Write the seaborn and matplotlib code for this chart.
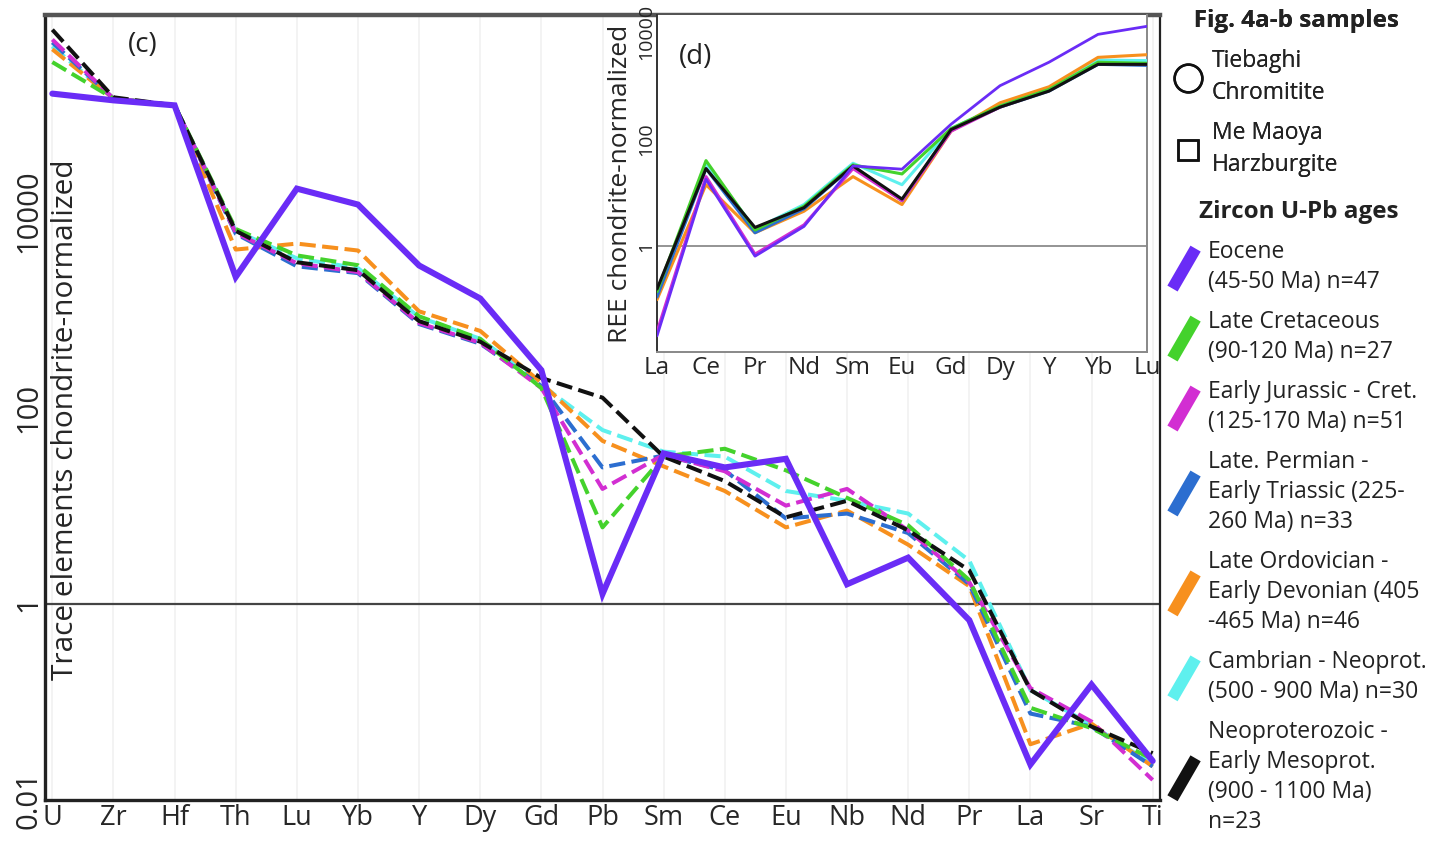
import numpy as np
import pandas as pd
import matplotlib
matplotlib.use("Agg")
import matplotlib.pyplot as plt
import seaborn as sns
from matplotlib.lines import Line2D
from matplotlib.legend_handler import HandlerBase
from matplotlib.ticker import NullLocator, FixedLocator

# ---------------- data ----------------
groups = ["Eocene", "Late Cretaceous", "Early Jurassic - Cret.", "Late Permian - Early Triassic",
          "Late Ordovician - Early Devonian", "Cambrian - Neoprot.", "Neoproterozoic - Early Mesoprot."]
legend_labels = ["Eocene\n(45-50 Ma) n=47",
                 "Late Cretaceous\n(90-120 Ma) n=27",
                 "Early Jurassic - Cret.\n(125-170 Ma) n=51",
                 "Late. Permian -\nEarly Triassic (225-\n260 Ma) n=33",
                 "Late Ordovician -\nEarly Devonian (405\n-465 Ma) n=46",
                 "Cambrian - Neoprot.\n(500 - 900 Ma) n=30",
                 "Neoproterozoic -\nEarly Mesoprot.\n(900 - 1100 Ma)\nn=23"]
colors = ["#6a2cf6", "#44d22c", "#d22ed2", "#2c6ed0", "#f7901e", "#5ef0ee", "#111111"]

trace_elements = ["U", "Zr", "Hf", "Th", "Lu", "Yb", "Y", "Dy", "Gd", "Pb",
                  "Sm", "Ce", "Eu", "Nb", "Nd", "Pr", "La", "Sr", "Ti"]
trace_eocene = [158000, 135000, 120000, 2140, 17000, 11700, 2800, 1290, 240, 1.26,
                34, 24.5, 30, 1.58, 2.95, 0.68, 0.023, 0.15, 0.025]
trace_late_cret = [331000, 141000, 120000, 6600, 3550, 2820, 850, 500, 158, 6.0,
                   31.6, 38, 22.9, 12.0, 6.3, 1.74, 0.087, 0.054, 0.026]
trace_early_jur = [562000, 141000, 120000, 6030, 2950, 2400, 724, 457, 158, 14.8,
                   33, 22.4, 10, 14.8, 5.6, 1.66, 0.138, 0.063, 0.016]
trace_permian = [525000, 141000, 120000, 5890, 2750, 2340, 708, 447, 166, 24.5,
                 32.4, 22.9, 7.4, 8.3, 5.25, 1.58, 0.076, 0.056, 0.022]
trace_ordovician = [447000, 141000, 120000, 4070, 4680, 3980, 955, 603, 178, 45.7,
                    25.1, 14.1, 6.0, 8.9, 4.0, 1.51, 0.037, 0.060, 0.022]
trace_cambrian = [479000, 141000, 120000, 6310, 3310, 2630, 832, 501, 170, 58.9,
                  35.5, 31.6, 14.1, 11.2, 8.3, 2.75, 0.132, 0.058, 0.023]
trace_neoprot = [708000, 145000, 120000, 6310, 3020, 2510, 759, 468, 200, 126,
                 31.6, 17.8, 7.6, 11.2, 5.6, 2.19, 0.132, 0.056, 0.030]

ree_elements = ["La", "Ce", "Pr", "Nd", "Sm", "Eu", "Gd", "Dy", "Y", "Yb", "Lu"]
ree_eocene = [0.021, 17.8, 0.65, 2.34, 31.6, 27.5, 190, 1000, 2750, 9120, 12900]
ree_late_cret = [0.141, 39.8, 2.0, 5.6, 33.1, 22.4, 158, 417, 851, 2750, 2630]
ree_early_jur = [0.025, 20, 0.71, 2.5, 28.2, 7.1, 141, 398, 832, 2630, 2510]
ree_permian = [0.112, 28.2, 1.78, 5.0, 31.6, 7.1, 151, 398, 794, 2510, 2400]
ree_ordovician = [0.10, 14.1, 1.78, 4.5, 20, 6.0, 141, 479, 955, 3390, 3800]
ree_cambrian = [0.126, 35.5, 2.09, 6.0, 35.5, 14.1, 158, 427, 891, 3020, 2950]
ree_neoprot = [0.158, 28.2, 2.24, 5.25, 31.6, 7.6, 151, 398, 794, 2510, 2510]

main_ticks = [0.01, 1, 100, 10000]
inset_ticks = [1, 100, 10000]

trace_series = [trace_eocene, trace_late_cret, trace_early_jur, trace_permian,
                trace_ordovician, trace_cambrian, trace_neoprot]
ree_series = [ree_eocene, ree_late_cret, ree_early_jur, ree_permian,
              ree_ordovician, ree_cambrian, ree_neoprot]

trace_df = pd.concat([pd.DataFrame({"element": trace_elements, "value": v, "group": g})
                      for g, v in zip(groups, trace_series)], ignore_index=True)
ree_df = pd.concat([pd.DataFrame({"element": ree_elements, "value": v, "group": g})
                    for g, v in zip(groups, ree_series)], ignore_index=True)

# ---------------- style ----------------
sns.set_style("white")
plt.rcParams["font.family"] = ["Open Sans", "DejaVu Sans"]
plt.rcParams["text.color"] = "#222222"

fig = plt.figure(figsize=(14.32, 8.41), dpi=100)
ax = fig.add_axes([45 / 1432, 41 / 841, 1115 / 1432, 785 / 841])

# draw order: dashed first, Eocene on top
draw_order = [5, 4, 3, 2, 1, 6, 0]
for i in draw_order:
    sub = trace_df[trace_df["group"] == groups[i]]
    if i == 0:
        sns.lineplot(data=sub, x="element", y="value", ax=ax, color=colors[i], sort=False,
                     estimator=None, lw=4.4, solid_joinstyle="miter", zorder=5)
    else:
        sns.lineplot(data=sub, x="element", y="value", ax=ax, color=colors[i], sort=False,
                     estimator=None, lw=2.9, linestyle=(0, (4, 1.6)), zorder=3)

ax.set_yscale("log")
ax.set_ylim(0.01, 1e6)
ax.set_xlim(-0.12, len(trace_elements) - 1 + 0.12)
ax.axhline(1, color="#444444", lw=1.6, zorder=1)
ax.yaxis.set_major_locator(FixedLocator(main_ticks))
ax.yaxis.set_minor_locator(NullLocator())
ax.set_yticklabels(["0.01", "1", "100", "10000"], rotation=90, va="center", fontsize=21)
ax.set_xticks(range(len(trace_elements)))
ax.set_xticklabels(trace_elements, fontsize=19.5)
ax.tick_params(axis="both", length=0)
ax.tick_params(axis="y", pad=1)
ax.tick_params(axis="x", pad=3)
ax.grid(axis="x", color="#f1f1f1", lw=1.2)
ax.grid(axis="y", visible=False)
ax.set_xlabel("")
ax.set_ylabel("Trace elements chondrite-normalized", fontsize=21.5)
ax.yaxis.set_label_coords(0.031, 0.484)
for side, (c, w) in {"left": ("#222222", 2.4), "bottom": ("#222222", 2.4),
                     "top": ("#555555", 3.2), "right": ("#222222", 1.6)}.items():
    ax.spines[side].set_color(c)
    ax.spines[side].set_linewidth(w)
    ax.spines[side].set_visible(True)
ax.text(0.088, 0.962, "(c)", transform=ax.transAxes, fontsize=20, ha="center", va="center")

# ---------------- inset ----------------
axin = fig.add_axes([657 / 1432, (841 - 352) / 841, 490 / 1432, 337 / 841])
axin.set_facecolor("white")
for i in draw_order:
    sub = ree_df[ree_df["group"] == groups[i]]
    sns.lineplot(data=sub, x="element", y="value", ax=axin, color=colors[i], sort=False,
                 estimator=None, lw=2.0 if i == 0 else 2.2, zorder=5 if i == 0 else 3)
axin.set_yscale("log")
axin.set_ylim(0.0105, 2.1e4)
axin.set_xlim(0, len(ree_elements) - 1)
axin.axhline(1, color="#777777", lw=1.1, zorder=1)
axin.yaxis.set_major_locator(FixedLocator(inset_ticks))
axin.yaxis.set_minor_locator(NullLocator())
axin.set_yticklabels(["1", "100", "10000"], rotation=90, va="center", fontsize=14)
axin.set_xticks(range(len(ree_elements)))
axin.set_xticklabels(ree_elements, fontsize=17.5)
axin.tick_params(axis="both", length=0)
axin.tick_params(axis="y", pad=1)
axin.tick_params(axis="x", pad=3)
axin.grid(False)
axin.set_xlabel("")
axin.set_ylabel("REE chondrite-normalized", fontsize=19, labelpad=3)
for side, (c, w) in {"left": ("#333333", 1.4), "bottom": ("#888888", 1.4),
                     "top": ("#555555", 0.0), "right": ("#888888", 1.4)}.items():
    axin.spines[side].set_color(c)
    axin.spines[side].set_linewidth(w)
axin.text(0.078, 0.875, "(d)", transform=axin.transAxes, fontsize=20, ha="center", va="center")


# ---------------- legends ----------------
class StripeHandler(HandlerBase):
    def create_artists(self, legend, orig_handle, xdescent, ydescent, width, height,
                       fontsize, trans):
        cx = -xdescent + width / 2
        cy = -ydescent + height / 2
        dx = width * 0.42
        dy = height * 0.85
        ln = Line2D([cx - dx, cx + dx], [cy - dy, cy + dy], color=orig_handle.get_color(),
                    lw=8.5, solid_capstyle="butt", transform=trans)
        return [ln]


sample_handles = [Line2D([], [], marker="o", ls="none", mfc="none", mec="#111111", ms=20, mew=1.8),
                  Line2D([], [], marker="s", ls="none", mfc="none", mec="#111111", ms=15, mew=1.8)]
leg1 = fig.legend(sample_handles, ["Tiebaghi\nChromitite", "Me Maoya\nHarzburgite"],
                  title="   Fig. 4a-b samples", loc="upper left",
                  bbox_to_anchor=(1170 / 1432, 1 - 4 / 841), frameon=False, fontsize=16.5,
                  title_fontproperties={"weight": "bold", "size": 17.5},
                  handlelength=1.2, handletextpad=0.42, labelspacing=0.72, borderaxespad=0,
                  borderpad=0.2)
leg1._legend_box.align = "left"
for t in leg1.get_texts():
    t.set_linespacing(1.42)
fig.add_artist(leg1)

age_handles = [Line2D([], [], color=c) for c in colors]
leg2 = fig.legend(age_handles, legend_labels, title="Zircon U-Pb ages", loc="upper left",
                  bbox_to_anchor=(1168 / 1432, 1 - 198 / 841), frameon=False, fontsize=16.5,
                  title_fontproperties={"weight": "bold", "size": 17.5},
                  handler_map={Line2D: StripeHandler()},
                  handlelength=1.2, handleheight=1.2, handletextpad=0.45, labelspacing=0.70,
                  borderaxespad=0, borderpad=0.1)
for t in leg2.get_texts():
    t.set_linespacing(1.33)

fig.savefig("out.png", dpi=100)
